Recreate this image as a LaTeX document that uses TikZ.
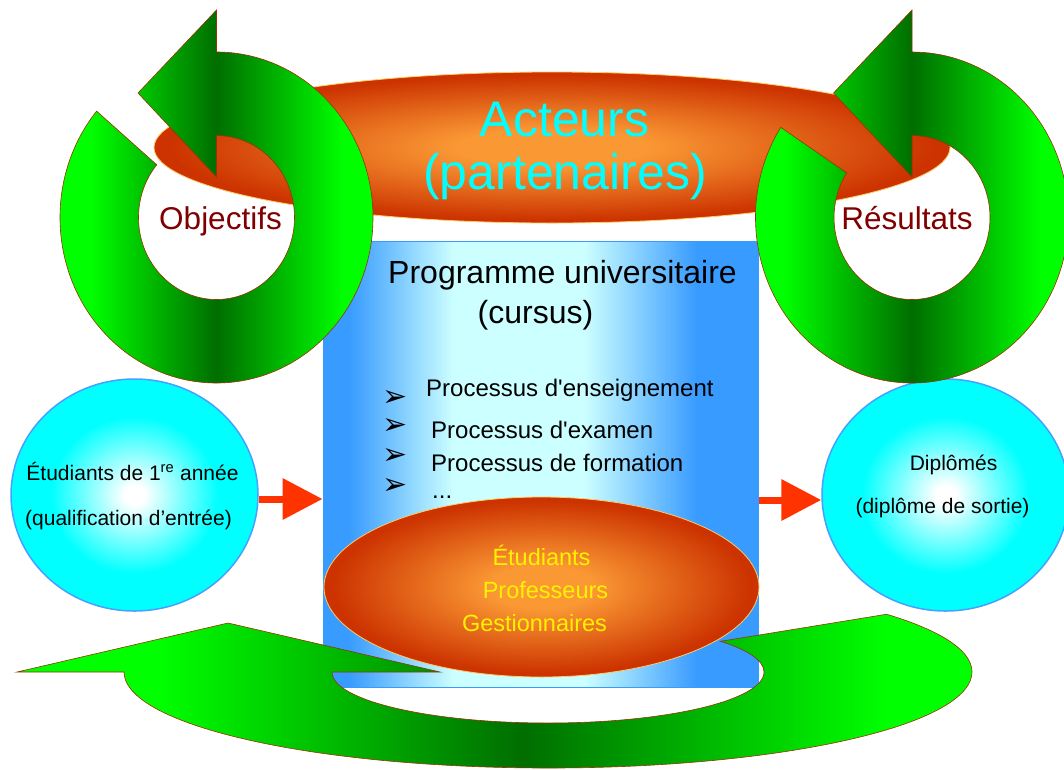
\documentclass[tikz,border=0pt]{standalone}
\usepackage{fontspec}
\usetikzlibrary{arrows.meta,shapes.geometric}
\newfontfamily\arial{Liberation Sans}
\newfontfamily\dejavu{DejaVu Sans}
\definecolor{oLight}{RGB}{250,152,52}
\definecolor{oDark}{RGB}{204,51,0}
\definecolor{ellLine}{RGB}{255,204,102}
\definecolor{gB}{RGB}{0,255,0}
\definecolor{gD}{RGB}{0,110,0}
\definecolor{ringLine}{RGB}{153,51,0}
\definecolor{bBlue}{RGB}{56,155,255}
\definecolor{bLight}{RGB}{204,255,255}
\definecolor{cyanC}{RGB}{0,255,255}
\definecolor{ballLine}{RGB}{70,160,255}
\definecolor{arrowRed}{RGB}{255,51,0}
\definecolor{darkRedText}{RGB}{128,0,0}
\pgfdeclareradialshading{orangeball}{\pgfpoint{0bp}{0bp}}{color(0bp)=(oLight); color(6bp)=(oLight); color(24bp)=(oDark); color(50bp)=(oDark)}
\pgfdeclareradialshading{cyanball}{\pgfpoint{0bp}{0bp}}{color(0bp)=(white); color(2bp)=(white); color(17bp)=(cyanC); color(50bp)=(cyanC)}
\pgfdeclarehorizontalshading{greenring}{100bp}{color(0bp)=(gB); color(32bp)=(gB); color(50bp)=(gD); color(68bp)=(gB); color(100bp)=(gB)}
\pgfdeclarehorizontalshading{bluerect}{100bp}{color(0bp)=(bBlue); color(28bp)=(bBlue); color(40bp)=(bLight); color(55bp)=(bLight); color(68bp)=(bBlue); color(100bp)=(bBlue)}
\tikzset{
  ringstyle/.style={shading=greenring, draw=ringLine, line width=0.6pt},
  orangeell/.style={ellipse, draw=ellLine, line width=0.8pt, shading=orangeball, inner sep=0pt},
  ballstyle/.style={ellipse, draw=ballLine, line width=1.5pt, shading=cyanball, inner sep=0pt},
  progbox/.style={rectangle, draw=bBlue, line width=1pt, shading=bluerect, inner sep=0pt},
  flow/.style={draw=arrowRed, line width=7pt, -{Triangle[length=40pt,width=40pt]}},
  txt/.style={inner sep=0pt, anchor=base},
  huge/.style={txt, text=cyanC, font=\arial\fontsize{50}{60}\selectfont},
  ringlabel/.style={txt, text=darkRedText, font=\arial\fontsize{31.5}{36}\selectfont},
  title/.style={txt, font=\arial\fontsize{32}{38}\selectfont},
  item/.style={inner sep=0pt, anchor=base west, font=\arial\fontsize{24}{28}\selectfont},
  bulletmark/.style={inner sep=0pt, anchor=center, font=\dejavu\fontsize{30}{34}\selectfont},
  member/.style={txt, text=yellow, font=\arial\fontsize{23.5}{28}\selectfont},
  balltext/.style={txt, font=\arial\fontsize{21}{25}\selectfont}
}
\newcommand\ringband[2]{%
  \path[ringstyle] (#1,217.5) ++(#2:156.5 and 165.5)
    arc[start angle=#2, end angle=-90, x radius=156.5, y radius=165.5]
    -- (#1,10) -- ({#1-78.5},93) -- (#1,177) -- (#1,135.5)
    arc[start angle=-90, end angle=#2, x radius=78, y radius=82] -- cycle;}
\begin{document}
\begin{tikzpicture}[x=1pt,y=-1pt]
\useasboundingbox (0,0) rectangle (1064,769);
% central programme box
\node[progbox, minimum width=435pt, minimum height=446pt] (prog) at (540.5,464) {};
% bottom return arrow
\path[ringstyle] (548,672) ++(-37:424 and 96)
  arc[start angle=-37, end angle=180, x radius=424, y radius=96]
  -- (17,672) -- (228,623) -- (440,672) -- (332,672)
  arc[start angle=180, end angle=-37, x radius=216, y radius=51] -- cycle;
% people ellipse
\node[orangeell, minimum width=435pt, minimum height=180pt] (team) at (541.5,587) {};
\node[member] (m1) at (541.5,565) {Étudiants};
\node[member] (m2) at (545.5,598) {Professeurs};
\node[member] (m3) at (534.5,631) {Gestionnaires};
% programme texts
\node[title] (p1) at (562.5,283) {Programme universitaire};
\node[title] (p2) at (535.5,323) {(cursus)};
\node[bulletmark] (b1) at (395,398.5) {➢};
\node[bulletmark] (b2) at (395,426.5) {➢};
\node[bulletmark] (b3) at (395,456.5) {➢};
\node[bulletmark] (b4) at (395,486.5) {➢};
\node[item] (i1) at (426,396) {Processus d'enseignement};
\node[item] (i2) at (431,438) {Processus d'examen};
\node[item] (i3) at (431,471) {Processus de formation};
\node[item] (i4) at (432,498) {...};
% input / output balls
\node[ballstyle, minimum width=247pt, minimum height=232pt] (inball) at (134.5,495) {};
\node[balltext] (in1) at (132.5,480) {Étudiants de 1\textsuperscript{re} année};
\node[balltext] (in2) at (128.5,525) {(qualification d’entrée)};
\node[ballstyle, minimum width=247pt, minimum height=232pt] (outball) at (945.5,495) {};
\node[balltext] (out1) at (953.5,470) {Diplômés};
\node[balltext] (out2) at (942.5,513) {(diplôme de sortie)};
% flow arrows
\draw[flow] ([yshift=-4pt]inball.east) -- ([yshift=-4pt]inball.east -| prog.west);
\draw[flow] ([yshift=-5pt]outball.west -| prog.east) -- ([yshift=-5pt]outball.west);
% actors ellipse
\node[orangeell, minimum width=796pt, minimum height=151pt] (actors) at (552,147.5) {};
\node[huge] (a1) at (564.5,136) {Acteurs};
\node[huge] (a2) at (565,189) {(partenaires)};
% cycle arrows
\ringband{216.5}{220}
\ringband{912}{213}
\node[ringlabel] (obj) at (220.5,229) {Objectifs};
\node[ringlabel] (res) at (907,229) {Résultats};
\end{tikzpicture}
\end{document}
